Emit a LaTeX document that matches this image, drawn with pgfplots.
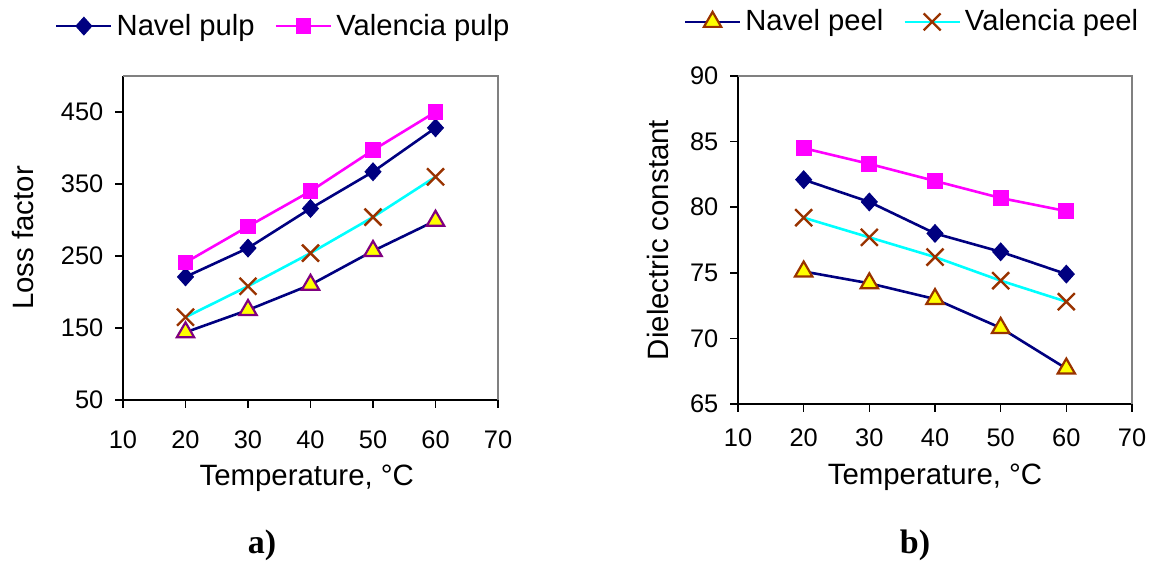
\documentclass[border=0pt]{standalone}
\usepackage{fontspec}
\setmainfont{Liberation Sans}
\newfontfamily\timesfont{Liberation Serif}
\usepackage{pgfplots}
\pgfplotsset{compat=1.18}
\definecolor{navy}{RGB}{0,0,128}
\definecolor{mag}{RGB}{255,0,255}
\definecolor{cyn}{RGB}{0,255,255}
\definecolor{brn}{RGB}{153,51,0}
\definecolor{purp}{RGB}{128,0,128}
\definecolor{yel}{RGB}{255,255,0}
\definecolor{boxgray}{RGB}{128,128,128}

\pgfplotsset{
 base/.style={
  scale only axis,
  xmin=10, xmax=70, xtick={10,20,...,70},
  axis x line*=bottom, axis y line*=left,
  axis line style={black, line width=0.8pt},
  tick align=outside, major tick length=4pt,
  tick style={black, line width=0.8pt},
  /pgf/number format/assume math mode=true,
  ticklabel style={font=\fontsize{12.7}{14}\selectfont},
  yticklabel style={xshift=-2.3pt},
  label style={font=\fontsize{14.7}{17}\selectfont},
  legend style={draw=none, fill=none, font=\fontsize{14.6}{17}\selectfont,
    legend columns=2, /tikz/every even column/.append style={column sep=8pt}},
  legend image code/.code={\draw[mark repeat=2,mark phase=2] plot coordinates {(0pt,0pt) (13.75pt,0pt) (27.5pt,0pt)};},
  clip=false,
 },
 npulp/.style={navy, line width=1.3pt, mark=diamond*, mark size=4.4pt,
   mark options={fill=navy, draw=navy, line width=0.5pt, xscale=1.2}},
 vpulp/.style={mag, line width=1.3pt, mark=square*, mark size=3.7pt,
   mark options={fill=mag, draw=mag, line width=0.5pt}},
 npeel/.style={navy, line width=1.3pt, mark=triangle*, mark size=5pt,
   mark options={fill=yel, draw=#1, line width=1.1pt}},
 vpeel/.style={cyn, line width=1.3pt, mark=x, mark size=6pt,
   mark options={draw=brn, line width=1.2pt}},
}

\begin{document}
\begin{tikzpicture}
\useasboundingbox (0,0) rectangle (574.5pt,280.5pt);

% ---------- a) Loss factor ----------
\begin{axis}[base,
  at={(61.5pt,80.5pt)}, anchor=south west,
  width=187.5pt, height=162pt,
  ymin=50, ymax=500, ytick={50,150,250,350,450},
  xticklabel style={yshift=-8pt},
  xlabel={Temperature, °C},
  xlabel style={at={(axis description cs:0.49,-0.18)}, anchor=north},
  ylabel={Loss factor},
  ylabel style={at={(axis description cs:-0.267,0.5)}, anchor=center},
  legend style={at={(axis description cs:0.43,1.154)}, anchor=center},
]
\draw[boxgray, line width=1pt] (rel axis cs:0,1) -- (rel axis cs:1,1) -- (rel axis cs:1,0);
\addplot[npulp] coordinates {(20,221) (30,261) (40,316) (50,367) (60,428)};
\addlegendentry{Navel pulp}
\addplot[vpulp] coordinates {(20,241) (30,291) (40,340) (50,397) (60,450)};
\addlegendentry{Valencia pulp}
\addplot[npeel=purp, forget plot] coordinates {(20,144) (30,175) (40,210) (50,257) (60,299)};
\addplot[vpeel, forget plot] coordinates {(20,165) (30,208) (40,254) (50,304) (60,360)};
\end{axis}

% ---------- b) Dielectric constant ----------
\begin{axis}[base,
  at={(369pt,78.5pt)}, anchor=south west,
  width=197pt, height=164pt,
  ymin=65, ymax=90, ytick={65,70,...,90},
  xticklabel style={yshift=-5pt},
  xlabel={Temperature, °C},
  xlabel style={at={(axis description cs:0.5,-0.162)}, anchor=north},
  ylabel={Dielectric constant},
  ylabel style={at={(axis description cs:-0.203,0.5)}, anchor=center},
  legend style={at={(axis description cs:0.444,1.165)}, anchor=center},
]
\draw[boxgray, line width=1pt] (rel axis cs:0,1) -- (rel axis cs:1,1) -- (rel axis cs:1,0);
\addplot[npulp, forget plot] coordinates {(20,82.1) (30,80.4) (40,78.0) (50,76.6) (60,74.9)};
\addplot[vpulp, forget plot] coordinates {(20,84.5) (30,83.3) (40,82.0) (50,80.7) (60,79.7)};
\addplot[npeel=brn] coordinates {(20,75.1) (30,74.2) (40,73.0) (50,70.8) (60,67.7)};
\addlegendentry{Navel peel}
\addplot[vpeel] coordinates {(20,79.2) (30,77.7) (40,76.2) (50,74.4) (60,72.8)};
\addlegendentry{Valencia peel}
\end{axis}

\node[anchor=base, font=\timesfont\bfseries\fontsize{17}{19}\selectfont] at (131pt,3.5pt) {a)};
\node[anchor=base, font=\timesfont\bfseries\fontsize{17}{19}\selectfont] at (457.5pt,3.5pt) {b)};
\end{tikzpicture}
\end{document}
